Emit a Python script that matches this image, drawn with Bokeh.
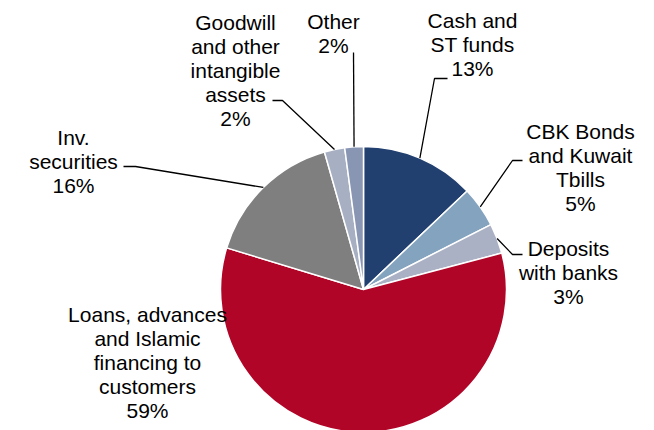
import math
from bokeh.plotting import figure
from bokeh.models import Range1d, ColumnDataSource
from bokeh.core.properties import value
from bokeh.embed import file_html
from bokeh.resources import INLINE

# ---- data ----
categories = [
    "Cash and\nST funds",
    "CBK Bonds\nand Kuwait\nTbills",
    "Deposits\nwith banks",
    "Loans, advances\nand Islamic\nfinancing to\ncustomers",
    "Inv.\nsecurities",
    "Goodwill\nand other\nintangible\nassets",
    "Other",
]
shares = [12.9, 4.6, 3.4, 58.8, 15.9, 2.3, 2.1]
colors = ["#213F6F", "#84A3BE", "#ABB1C5", "#B10528", "#7F7F7F", "#A7AFC2", "#8996B3"]

# ---- layout (picture pixel coordinates, y measured from top) ----
W, H = 654, 430
CX, CY, R = 363, 289, 143
label_pos = [(472, 44), (580, 167), (568, 272), (147, 362), (73, 161), (235, 70), (333, 33)]
# leader lines: elbow point and end point near label (None => no leader)
leaders = [((434, 78), (447, 78)),
           ((512, 160), (522, 160)),
           ((512, 254), (522, 254)),
           None,
           ((135, 166), (123, 166)),
           ((282, 100), (272, 100)),
           ((353, 52), (353, 52))]


def Y(y):
    return H - y


p = figure(width=W, height=H, output_backend="svg", toolbar_location=None,
           x_range=Range1d(0, W), y_range=Range1d(0, H),
           min_border=0, outline_line_color=None)
p.axis.visible = False
p.grid.visible = False
p.background_fill_color = "white"
p.border_fill_color = "white"

total = sum(shares)
starts, ends, mids = [], [], []
cum = 0.0
for s in shares:
    a0 = cum / total
    cum += s
    a1 = cum / total
    # clockwise from 12 o'clock
    starts.append(math.pi / 2 - a1 * 2 * math.pi)
    ends.append(math.pi / 2 - a0 * 2 * math.pi)
    mids.append((a0 + a1) / 2)

src = ColumnDataSource(dict(start=starts, end=ends, color=colors))
p.wedge(x=CX, y=Y(CY), radius=R, start_angle="start", end_angle="end",
        fill_color="color", line_color="white", line_width=1.5, source=src)

# leader lines
xs, ys = [], []
for m, ld in zip(mids, leaders):
    if ld is None:
        continue
    ang = m * 2 * math.pi
    ex = CX + R * math.sin(ang)
    ey = CY - R * math.cos(ang)
    (bx, by), (tx, ty) = ld
    xs.append([ex, bx, tx])
    ys.append([Y(ey), Y(by), Y(ty)])
p.multi_line(xs=xs, ys=ys, line_color="black", line_width=1.3)

labels = [f"{c}\n{round(s)}%" for c, s in zip(categories, shares)]
p.text(x=[lp[0] for lp in label_pos], y=[Y(lp[1]) for lp in label_pos], text=labels,
       text_font=value("Liberation Sans"), text_font_size="21px",
       text_align="center", text_baseline="middle", text_line_height=1.05,
       text_color="black")

open("out.html", "w").write(file_html(p, INLINE))
